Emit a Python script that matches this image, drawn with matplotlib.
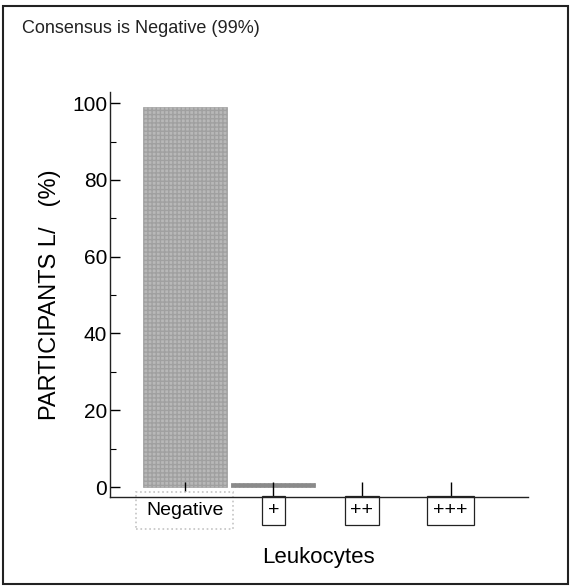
import matplotlib.pyplot as plt
from matplotlib.patches import Rectangle

categories = ['Negative', '+', '++', '+++']
participants = [99, 1, 0, 0]
title = 'Consensus is Negative (99%)'

narrow = ['Liberation Sans Narrow', 'Liberation Sans', 'DejaVu Sans']

fig = plt.figure(figsize=(5.7, 5.87), dpi=100)
ax = fig.add_axes([0.193, 0.1533, 0.733, 0.690])

x = list(range(len(categories)))
bars = ax.bar(x, participants, width=0.95, color='#b8b8b8',
              edgecolor='#a0a0a0', linewidth=0.5, hatch='++++')
bars[1].set_color('#8a8a8a')
for b, v in zip(bars, participants):
    if v == 0:
        b.set_visible(False)

ax.set_xlim(-0.842, 3.872)
ax.set_ylim(-2.6, 102.9)
ax.set_yticks([0, 20, 40, 60, 80, 100])
ax.set_yticks([10, 30, 50, 70, 90], minor=True)
ax.set_xticks(x)
ax.set_xticklabels(categories)

for s in ['top', 'right']:
    ax.spines[s].set_visible(False)
for s in ['left', 'bottom']:
    ax.spines[s].set_linewidth(1.0)
    ax.spines[s].set_color('#222222')

ax.tick_params(axis='y', direction='in', length=7, width=1, pad=2,
               labelsize=15)
ax.tick_params(axis='y', which='minor', direction='in', length=4, width=0.8)
ax.tick_params(axis='x', direction='in', length=11, width=1, pad=3.5,
               labelsize=14)
for lab in ax.get_yticklabels():
    lab.set_family(narrow)
for i, lab in enumerate(ax.get_xticklabels()):
    lab.set_family(narrow)
    if i == 0:
        lab.set_bbox(dict(boxstyle='square,pad=0.5', fc='white',
                          ec='#c4c4c4', lw=1.2, ls=':'))
    else:
        lab.set_bbox(dict(boxstyle='square,pad=0.3', fc='white',
                          ec='#222222', lw=0.9))

ax.set_ylabel('PARTICIPANTS L/   (%)', fontsize=17, family=narrow,
              labelpad=8)
ax.set_xlabel('Leukocytes', fontsize=16, family=narrow, labelpad=20)

fig.text(0.038, 0.952, title, fontsize=13, family='Liberation Sans',
         ha='left', va='center', color='#222222')

fig.patches.append(Rectangle((0.006, 0.005), 0.99, 0.985,
                             transform=fig.transFigure, fill=False,
                             ec='#222222', lw=1.5))

fig.savefig('out.png', dpi=100)
